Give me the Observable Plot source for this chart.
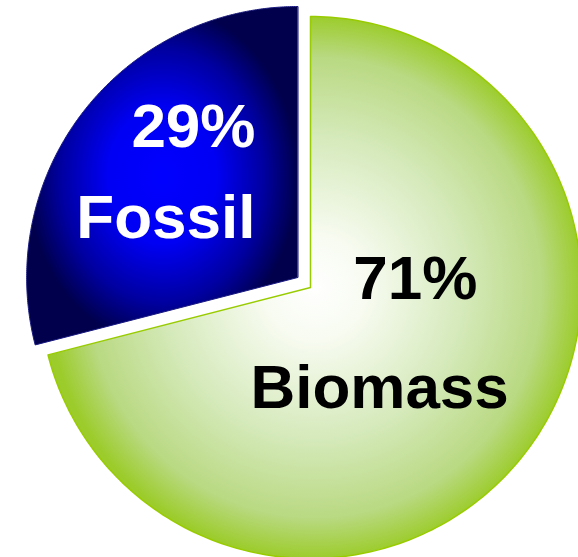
<!DOCTYPE html>
<html><head><meta charset="utf-8">
<script src="https://cdn.jsdelivr.net/npm/d3@7"></script>
<script src="https://cdn.jsdelivr.net/npm/@observablehq/plot@0.6"></script>
<style>html,body{margin:0;padding:0;background:#fff;overflow:hidden;}</style>
</head><body><div id="chart"></div>
<script>
// ---- data ----
const categories = ["Biomass", "Fossil"];
const shares = [71, 29];
const percentLabels = ["71%", "29%"];

// ---- layout (not data) ----
const W = 578, H = 557;
const CX = 310, CY = 287, R = 271;           // pie centre / radius in pixels
const explode = {Biomass: 0, Fossil: 0.06};  // radial offset, in radii
const labelLayout = {                         // label anchors in radius units
  Biomass: {pct: [0.387, 0.030], name: [0.255, -0.373], anchor: "middle", fill: "#000000"},
  Fossil:  {pct: [-0.203, 0.590], name: [-0.203, 0.255], anchor: "end",    fill: "#ffffff"}
};

const rows = categories.map((c, i) => ({category: c, share: shares[i], pct: percentLabels[i]}));
const arcs = d3.pie().sort(null).value(d => d.share)(rows);

function slicePoints(a) {
  const mid = (a.startAngle + a.endAngle) / 2;
  const e = explode[a.data.category];
  const ox = e * Math.sin(mid), oy = e * Math.cos(mid);
  const pts = [{x: ox, y: oy}];
  const n = 240;
  for (let k = 0; k <= n; k++) {
    const t = a.startAngle + (a.endAngle - a.startAngle) * k / n;
    pts.push({x: ox + Math.sin(t), y: oy + Math.cos(t)});
  }
  return pts;
}
const bio = arcs.find(a => a.data.category === "Biomass");
const fos = arcs.find(a => a.data.category === "Fossil");

const labels = [];
rows.forEach(r => {
  const L = labelLayout[r.category];
  labels.push({category: r.category, text: r.pct, x: L.pct[0], y: L.pct[1]});
  labels.push({category: r.category, text: r.category, x: L.name[0], y: L.name[1]});
});

const font = "'Liberation Sans', Arial, Helvetica, sans-serif";
const textMark = cat => Plot.text(labels.filter(d => d.category === cat), {
  x: "x", y: "y", text: "text",
  textAnchor: labelLayout[cat].anchor, fill: labelLayout[cat].fill,
  fontSize: 62, fontWeight: "bold", fontFamily: font
});

const chart = Plot.plot({
  width: W, height: H, margin: 0,
  style: {background: "#ffffff", overflow: "hidden"},
  x: {domain: [(0 - CX) / R, (W - CX) / R], axis: null},
  y: {domain: [(CY - H) / R, CY / R], axis: null},
  marks: [
    Plot.line(slicePoints(bio), {x: "x", y: "y", curve: "linear-closed",
      fill: "url(#gBio)", stroke: "#99cc00", strokeWidth: 1.5}),
    Plot.line(slicePoints(fos), {x: "x", y: "y", curve: "linear-closed",
      fill: "url(#gFos)", stroke: "#1a1a80", strokeWidth: 1}),
    textMark("Fossil"),
    textMark("Biomass")
  ]
});

const defs = d3.select(chart).insert("defs", ":first-child");
function grad(id, stops) {
  const g = defs.append("radialGradient").attr("id", id)
    .attr("cx", "50%").attr("cy", "50%").attr("r", "50%");
  stops.forEach(([o, c]) => g.append("stop").attr("offset", o).attr("stop-color", c));
}
grad("gBio", [[0, "#ffffff"], [0.2, "#f7fbf0"], [0.55, "#d6eabc"], [0.85, "#b9d982"], [1, "#9ccc2c"]]);
grad("gFos", [[0, "#0000ff"], [0.4, "#0000f4"], [0.75, "#0000a0"], [1, "#00004c"]]);

document.getElementById("chart").appendChild(chart);
</script>
</body></html>
